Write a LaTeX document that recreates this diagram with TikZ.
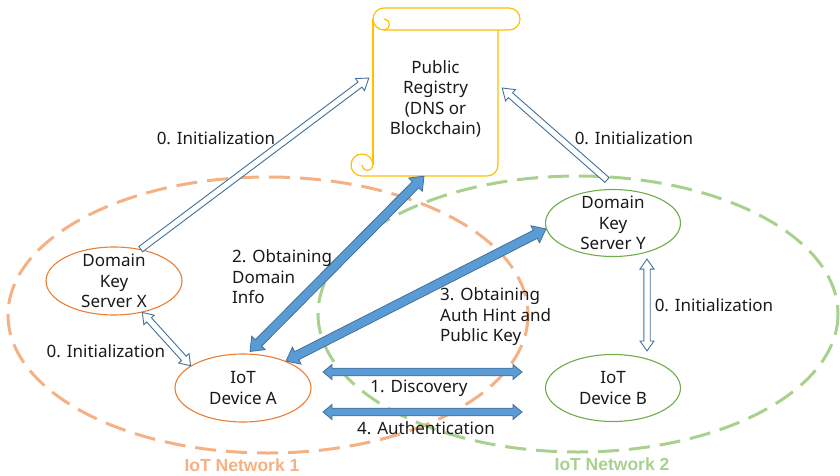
\documentclass[tikz,border=0pt]{standalone}
\usepackage{fontspec}
\setmainfont{Noto Sans}
\newfontfamily\netfont{Liberation Sans}
\usetikzlibrary{calc,shapes.geometric}

\definecolor{orline}{HTML}{ED7D31}
\definecolor{ordash}{HTML}{F4B183}
\definecolor{grline}{HTML}{70AD47}
\definecolor{grdash}{HTML}{A9D18E}
\definecolor{scrollcol}{HTML}{FFC000}
\definecolor{bluefill}{HTML}{5B9BD5}
\definecolor{blueline}{HTML}{41719C}
\definecolor{txtcol}{HTML}{1A1A1A}

% block arrow with a head at both ends: from, to, half shaft, half head, head length, style
\newcommand{\ArrowTwoHeads}[6]{%
  \coordinate (ba@p) at ($(#1)!#5!(#2)$);
  \coordinate (ba@q) at ($(#2)!#5!(#1)$);
  \filldraw[#6] (#1) -- ($(ba@p)!#4!90:(#2)$) -- ($(ba@p)!#3!90:(#2)$)
    -- ($(ba@q)!#3!-90:(#1)$) -- ($(ba@q)!#4!-90:(#1)$) -- (#2)
    -- ($(ba@q)!#4!90:(#1)$) -- ($(ba@q)!#3!90:(#1)$)
    -- ($(ba@p)!#3!-90:(#2)$) -- ($(ba@p)!#4!-90:(#2)$) -- cycle;
}
% block arrow with one head: tail, tip, half shaft, half head, head length, style
\newcommand{\ArrowOneHead}[6]{%
  \coordinate (ba@q) at ($(#2)!#5!(#1)$);
  \filldraw[#6] ($(#1)!#3!90:(#2)$)
    -- ($(ba@q)!#3!-90:(#1)$) -- ($(ba@q)!#4!-90:(#1)$) -- (#2)
    -- ($(ba@q)!#4!90:(#1)$) -- ($(ba@q)!#3!90:(#1)$)
    -- ($(#1)!#3!-90:(#2)$) -- cycle;
}

\begin{document}
\begin{tikzpicture}[x=1pt,y=-1pt,
  lbl/.style={font=\fontsize{17}{20.5}\selectfont, text=txtcol, inner sep=0pt},
  netlbl/.style={font=\netfont\bfseries\fontsize{17.5}{20}\selectfont, inner sep=0pt},
  orbox/.style={ellipse, draw=orline, line width=1.1pt, fill=white,
    minimum width=136pt, minimum height=68pt, inner sep=0pt},
  grbox/.style={ellipse, draw=grline, line width=1.1pt, fill=white,
    minimum width=135pt, minimum height=67pt, inner sep=0pt},
  netdash/.style={line width=3pt, dash pattern=on 21pt off 10pt},
  scroll/.style={draw=scrollcol, line width=1.2pt, fill=white, line join=round},
  hollow/.style={draw=blueline, line width=0.9pt, fill=white, line join=miter},
  solid/.style={draw=blueline, line width=0.8pt, fill=bluefill, line join=miter}]

\useasboundingbox (0,0) rectangle (840,476);

% the two network areas
\draw[netdash, ordash] (268,315) ellipse [x radius=260, y radius=138];
\draw[netdash, grdash] (578,314) ellipse [x radius=260, y radius=138];
\node[netlbl, text=ordash] (net1) at (242,465) {IoT Network 1};
\node[netlbl, text=grdash] (net2) at (612,464) {IoT Network 2};

% registry drawn as a vertical scroll
\fill[white] (373,19) rectangle (498,176);
\draw[scroll] (373,19) -- (373,165);
\draw[scroll, fill=none] (498,30) -- (498,165) arc[start angle=0, end angle=90, radius=11] -- (362,176);
\filldraw[scroll] (384,8) -- (509,8) arc[start angle=270, end angle=450, radius=11]
  -- (384,30) arc[start angle=90, end angle=270, radius=11] -- cycle;
\draw[scroll] (384,19) arc[start angle=270, end angle=450, radius=5.5];
\filldraw[scroll] (362,176) arc[start angle=90, end angle=360, radius=11]
  arc[start angle=0, end angle=180, radius=5.5];
\node[minimum width=125pt, minimum height=146pt, inner sep=0pt,
  label={[lbl, align=center, yshift=4pt]center:Public\\Registry\\(DNS or\\Blockchain)}]
  (reg) at (435.5,103) {};

% servers and devices
\node[orbox, label={[lbl, align=center]center:Domain\\Key\\Server X}] (dksx) at (114,281) {};
\node[orbox, label={[lbl, align=center]center:IoT\\Device A}] (ioa) at (243,388) {};
\node[grbox, label={[lbl, align=center]center:Domain\\Key\\Server Y}] (dksy) at (613,223) {};
\node[grbox, label={[lbl, align=center]center:IoT\\Device B}] (iob) at (613,388) {};

% arrow end points
\coordinate (regl) at ($(reg.west)+(-4,-25)$);
\coordinate (regr) at ($(reg.east)+(4,-15)$);
\coordinate (regb) at ($(reg.south)+(-11.5,0)$);
\coordinate (ytail) at ($(dksy.north)+(-6,-9)$);
\coordinate (atop) at ($(ioa.north)+(7,-2)$);
\coordinate (yup) at ($(dksy.south)+(34,2)$);
\coordinate (bdown) at ($(iob.north)+(34,-3)$);
\coordinate (disl) at (323,372);
\coordinate (disr) at (522,372);
\coordinate (autl) at (323,412);
\coordinate (autr) at (522,412);

% initialization arrows
\ArrowOneHead{dksx.50}{regl}{3.2pt}{7.5pt}{11pt}{hollow}
\ArrowOneHead{ytail}{regr}{3.2pt}{7.5pt}{11pt}{hollow}
\ArrowTwoHeads{dksx.-48}{ioa.157}{3.2pt}{7pt}{10pt}{hollow}
\ArrowTwoHeads{yup}{bdown}{3.2pt}{7pt}{10pt}{hollow}

% protocol arrows
\ArrowTwoHeads{atop}{regb}{4.5pt}{9.5pt}{12pt}{solid}
\ArrowTwoHeads{ioa.32}{dksy.185}{4.5pt}{9.5pt}{12pt}{solid}
\ArrowTwoHeads{disl}{disr}{3.8pt}{7.5pt}{9pt}{solid}
\ArrowTwoHeads{autl}{autr}{3.8pt}{7.5pt}{9pt}{solid}

% labels
\node[lbl] (init1) at (216,138) {0. Initialization};
\node[lbl] (init2) at (634,138) {0. Initialization};
\node[lbl] (init3) at (106,351) {0. Initialization};
\node[lbl] (init4) at (714,305) {0. Initialization};
\node[lbl, align=left, anchor=west] (step2) at (232,277) {2. Obtaining\\Domain\\Info};
\node[lbl, align=left, anchor=west] (step3) at (440,317) {3. Obtaining\\Auth Hint and\\Public Key};
\node[lbl] (step1) at (419,388) {1. Discovery};
\node[lbl] (step4) at (426,428) {4. Authentication};
\end{tikzpicture}
\end{document}
